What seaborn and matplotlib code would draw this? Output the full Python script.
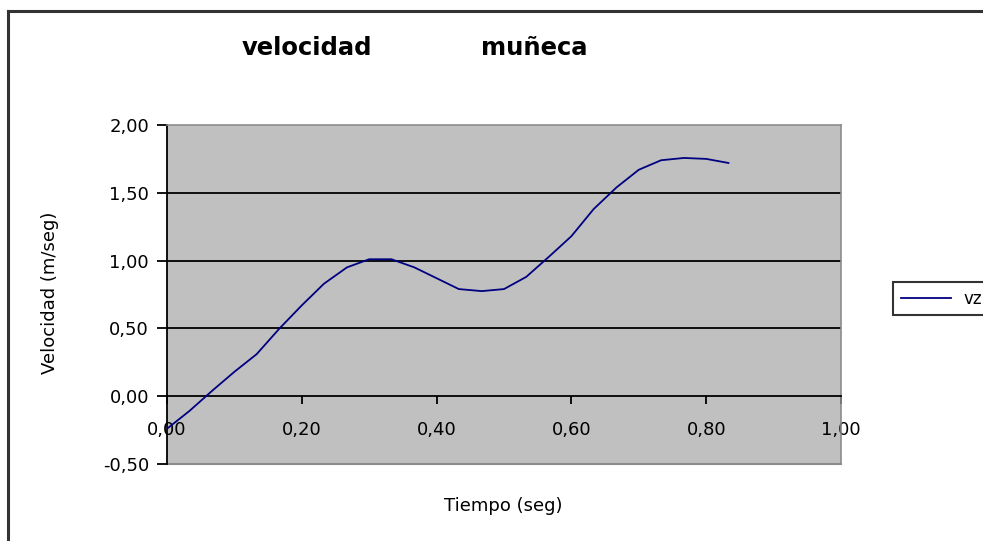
import numpy as np
import pandas as pd
import matplotlib
matplotlib.use('Agg')
import matplotlib.pyplot as plt
import seaborn as sns
from matplotlib.lines import Line2D

# ── Data ───────────────────────────────────────────────────────────────────
tiempo = [0.000, 0.033, 0.067, 0.100, 0.133, 0.167, 0.200, 0.233, 0.267,
          0.300, 0.333, 0.367, 0.400, 0.433, 0.467, 0.500, 0.533, 0.567,
          0.600, 0.633, 0.667, 0.700, 0.733, 0.767, 0.800, 0.833]
vz = [-0.24, -0.11, 0.04, 0.18, 0.31, 0.50, 0.67, 0.83, 0.95,
      1.01, 1.01, 0.95, 0.87, 0.79, 0.775, 0.79, 0.88, 1.03,
      1.18, 1.38, 1.54, 1.67, 1.74, 1.757, 1.75, 1.72]

x_ticks = [0.0, 0.2, 0.4, 0.6, 0.8, 1.0]
x_labels = ['0,00', '0,20', '0,40', '0,60', '0,80', '1,00']
y_ticks = [-0.5, 0.0, 0.5, 1.0, 1.5, 2.0]
y_labels = ['-0,50', '0,00', '0,50', '1,00', '1,50', '2,00']

df = pd.DataFrame({'Tiempo': tiempo, 'vz': vz})

W, H = 983, 541
fig = plt.figure(figsize=(W / 100, H / 100), dpi=100)
plt.rcParams['font.family'] = ['DejaVu Sans']

# plot area in pixel coordinates: left 167, right 841, top 125, bottom 464
ax = fig.add_axes([167 / W, 1 - 464 / H, 674 / W, 339 / H])
ax.set_facecolor('#c0c0c0')

for yv in [0.5, 1.0, 1.5]:
    ax.axhline(yv, color='black', lw=1.3, zorder=1)

sns.lineplot(data=df, x='Tiempo', y='vz', color='#000080', lw=1.3,
             label='vz', ax=ax, zorder=3)

ax.set_xlim(0, 1.0)
ax.set_ylim(-0.5, 2.0)

# Excel-style axes: x axis crosses at y = 0
ax.spines['bottom'].set_position(('data', 0))
ax.spines['bottom'].set_color('black')
ax.spines['bottom'].set_linewidth(1.3)
ax.spines['left'].set_color('black')
ax.spines['left'].set_linewidth(1.3)
for s in ['top', 'right']:
    ax.spines[s].set_color('#8c8c8c')
    ax.spines[s].set_linewidth(1.2)
ax.axhline(-0.5, color='#8c8c8c', lw=1.5, zorder=0, clip_on=False)

ax.set_xticks(x_ticks)
ax.set_xticklabels(x_labels)
ax.set_yticks(y_ticks)
ax.set_yticklabels(y_labels)
ax.tick_params(axis='x', direction='out', length=6, width=1.3, pad=12,
               labelsize=13, colors='black')
ax.tick_params(axis='y', direction='out', length=7, width=1.3, pad=6,
               labelsize=13, colors='black')
ax.set_xlabel('')
ax.set_ylabel('')

# title (two words with a wide gap, as in the original) and axis labels
fig.text(242 / W, 1 - 55 / H, 'velocidad', ha='left', va='baseline',
         fontsize=17.5, fontweight='bold')
fig.text(481 / W, 1 - 55 / H, 'muñeca', ha='left', va='baseline',
         fontsize=17.5, fontweight='bold')
fig.text(503 / W, 1 - 506 / H, 'Tiempo (seg)', ha='center', va='center',
         fontsize=13)
fig.text(50 / W, 1 - 293 / H, 'Velocidad (m/seg)', ha='center', va='center',
         rotation=90, fontsize=13)

# legend on the right, partly cut off by the image edge
leg = ax.legend(loc='upper left', bbox_to_anchor=(893 / W, 1 - 282 / H),
                bbox_transform=fig.transFigure, frameon=True, fancybox=False,
                fontsize=12, handlelength=3, borderpad=0.45, borderaxespad=0)
leg.get_frame().set_edgecolor('black')
leg.get_frame().set_linewidth(1.5)

# outer chart frame (left and top edges visible)
fig.add_artist(Line2D([8 / W, 8 / W], [0, 1 - 11 / H], color='#333333', lw=2.2,
                      transform=fig.transFigure))
fig.add_artist(Line2D([8 / W, 1], [1 - 11 / H, 1 - 11 / H], color='#333333',
                      lw=2.2, transform=fig.transFigure))

fig.savefig('out.png', dpi=100)
plt.close()
